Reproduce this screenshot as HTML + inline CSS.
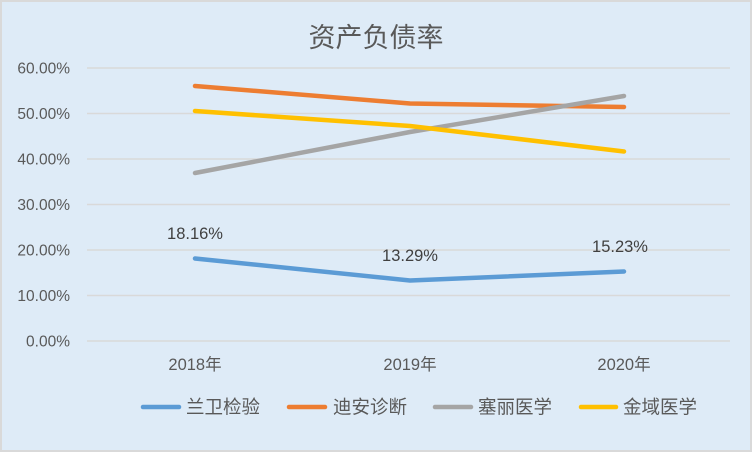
<!DOCTYPE html>
<html><head><meta charset="utf-8"><style>
html,body{margin:0;padding:0;background:#fff}
svg{display:block}
text{font-family:"Liberation Sans","Noto Sans CJK SC",sans-serif}
</style></head><body>
<svg width="752" height="452" viewBox="0 0 752 452">
<rect x="1" y="1" width="750" height="450" fill="#deebf7" stroke="#d9d9d9" stroke-width="2"/>
<text x="376" y="47" font-size="27" fill="#595959" text-anchor="middle">资产负债率</text>
<g stroke="#d9d9d9" stroke-width="1.5">
<line x1="87" x2="730" y1="68" y2="68"/><line x1="87" x2="730" y1="113.5" y2="113.5"/>
<line x1="87" x2="730" y1="159" y2="159"/><line x1="87" x2="730" y1="204.5" y2="204.5"/>
<line x1="87" x2="730" y1="250" y2="250"/><line x1="87" x2="730" y1="295.5" y2="295.5"/>
<line x1="87" x2="730" y1="341" y2="341"/>
</g>
<g font-size="15.5" fill="#595959" text-anchor="end">
<text x="70" y="73.5">60.00%</text><text x="70" y="119">50.00%</text>
<text x="70" y="164.5">40.00%</text><text x="70" y="210">30.00%</text>
<text x="70" y="255.5">20.00%</text><text x="70" y="301">10.00%</text>
<text x="70" y="346.5">0.00%</text>
</g>
<g font-size="16.5" fill="#595959" text-anchor="middle">
<text x="195" y="370">2018年</text><text x="410" y="370">2019年</text><text x="624" y="370">2020年</text>
</g>
<g fill="none" stroke-width="4.5" stroke-linecap="round" stroke-linejoin="round">
<polyline stroke="#5b9bd5" points="195,258.5 410,280.5 624,271.5"/>
<polyline stroke="#ed7d31" points="195,86 410,103.5 624,107"/>
<polyline stroke="#a5a5a5" points="195,173 410,132 624,96"/>
<polyline stroke="#ffc000" points="195,111 410,126 624,151.5"/>
</g>
<g font-size="16.5" fill="#404040" text-anchor="middle">
<text x="195" y="239">18.16%</text><text x="410" y="261">13.29%</text><text x="620" y="252">15.23%</text>
</g>
<g font-size="18.5" fill="#595959">
<line x1="143" x2="179" y1="407" y2="407" stroke="#5b9bd5" stroke-width="4.5" stroke-linecap="round"/><text x="186" y="413.5">兰卫检验</text>
<line x1="289" x2="325" y1="407" y2="407" stroke="#ed7d31" stroke-width="4.5" stroke-linecap="round"/><text x="333" y="413.5">迪安诊断</text>
<line x1="435" x2="471" y1="407" y2="407" stroke="#a5a5a5" stroke-width="4.5" stroke-linecap="round"/><text x="478" y="413.5">塞丽医学</text>
<line x1="581" x2="616" y1="407" y2="407" stroke="#ffc000" stroke-width="4.5" stroke-linecap="round"/><text x="623" y="413.5">金域医学</text>
</g>
</svg>
</body></html>
